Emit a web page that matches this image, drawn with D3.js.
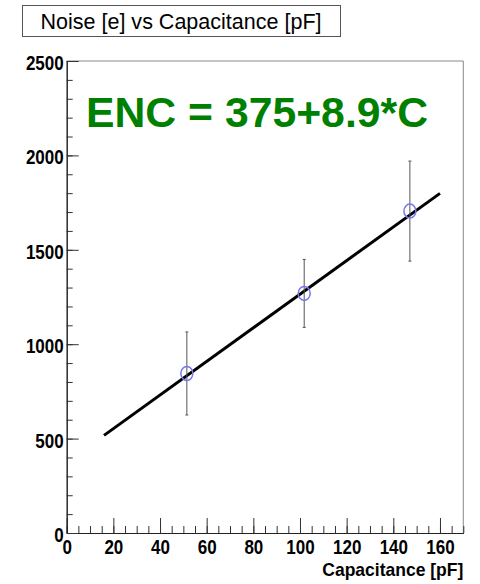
<!DOCTYPE html>
<html>
<head>
<meta charset="utf-8">
<script src="https://cdn.jsdelivr.net/npm/d3@7"></script>
<style>
  body { margin: 0; background: white; }
  svg { display: block; }
</style>
</head>
<body>
<svg id="chart" width="480" height="584"></svg>
<script>
let capacitance = [51.5, 101.8, 147.1];
let noise = [845, 1269, 1705];
let noiseErr = [220, 180, 265];

// straight-line fit, endpoints as drawn
let fitC = [16, 160];
let fitNoise = [517, 1799];

let xMajor = [0, 20, 40, 60, 80, 100, 120, 140, 160];
let yMajor = [0, 500, 1000, 1500, 2000, 2500];

let titleText = "Noise [e] vs Capacitance [pF]";
let xTitle = "Capacitance [pF]";
let fitLabel = "ENC = 375+8.9*C";

let svg = d3.select("#chart");
let labelFont = "'Liberation Sans', Arial, sans-serif";

// no narrow font installed: squeeze each text horizontally
let squeeze = (sel, f) => sel.each(function () {
    let w = this.getComputedTextLength();
    d3.select(this).attr("textLength", w * f).attr("lengthAdjust", "spacingAndGlyphs");
});

let frameL = 66.7, frameR = 463.3, frameT = 61, frameB = 533;
let x = d3.scaleLinear().domain([0, 170]).range([frameL, frameR]);
let y = d3.scaleLinear().domain([0, 2500]).range([frameB, frameT]);

// frame (top + right are lighter)
svg.append("path")
    .attr("d", `M${frameL},${frameT} H${frameR} V${frameB}`)
    .attr("fill", "none")
    .attr("stroke", "#8a8a8a")
    .attr("stroke-width", 1);

// minor ticks first, then major ticks with labels
let xMinor = svg.append("g")
    .attr("transform", `translate(0,${frameB})`)
    .call(d3.axisBottom(x).tickValues(d3.range(0, 171, 5)).tickSizeInner(-7).tickSizeOuter(0).tickFormat(""));
let xAxis = svg.append("g")
    .attr("transform", `translate(0,${frameB})`)
    .call(d3.axisBottom(x).tickValues(xMajor).tickSizeInner(-15).tickSizeOuter(0).tickPadding(7).tickFormat(d3.format("d")));

let yMinor = svg.append("g")
    .attr("transform", `translate(${frameL},0)`)
    .call(d3.axisLeft(y).tickValues(d3.range(0, 2501, 100)).tickSizeInner(-6).tickSizeOuter(0).tickFormat(""));
let yAxis = svg.append("g")
    .attr("transform", `translate(${frameL},0)`)
    .call(d3.axisLeft(y).tickValues(yMajor).tickSizeInner(-12).tickSizeOuter(0).tickPadding(3).tickFormat(d3.format("d")));

for (let g of [xMinor, xAxis, yMinor, yAxis]) {
    g.selectAll("path.domain").attr("stroke", "#222");
    g.selectAll(".tick line").attr("stroke", "#333");
}

xAxis.selectAll("text")
    .style("font-family", labelFont)
    .style("font-weight", "bold")
    .style("font-size", "20px")
    .attr("fill", "black")
    .attr("dy", "0.72em")
    .call(squeeze, 0.85);

yAxis.selectAll("text")
    .style("font-family", labelFont)
    .style("font-weight", "bold")
    .style("font-size", "20px")
    .attr("fill", "black")
    .attr("dy", "0.42em")
    .call(squeeze, 0.85);

// x axis title, right aligned with the frame
svg.append("text")
    .attr("x", frameR)
    .attr("y", 576)
    .attr("text-anchor", "end")
    .style("font-family", labelFont)
    .style("font-weight", "bold")
    .style("font-size", "19px")
    .attr("textLength", 141)
    .attr("lengthAdjust", "spacingAndGlyphs")
    .text(xTitle);

// title box
svg.append("rect")
    .attr("x", 22.5)
    .attr("y", 5.5)
    .attr("width", 318)
    .attr("height", 31)
    .attr("fill", "white")
    .attr("stroke", "#555")
    .attr("stroke-width", 1);

svg.append("text")
    .attr("x", 181)
    .attr("y", 29)
    .attr("text-anchor", "middle")
    .style("font-family", labelFont)
    .style("font-size", "22px")
    .attr("textLength", 281)
    .attr("lengthAdjust", "spacingAndGlyphs")
    .text(titleText);

// fit line
let line = d3.line().x(d => x(d[0])).y(d => y(d[1]));
svg.append("path")
    .attr("d", line(d3.zip(fitC, fitNoise)))
    .attr("fill", "none")
    .attr("stroke", "black")
    .attr("stroke-width", 3);

// error bars
let points = d3.zip(capacitance, noise, noiseErr);
for (let [c, n, e] of points) {
    svg.append("line")
        .attr("x1", x(c)).attr("x2", x(c))
        .attr("y1", y(n - e)).attr("y2", y(n + e))
        .attr("stroke", "#555")
        .attr("stroke-width", 1);
    for (let end of [n - e, n + e]) {
        svg.append("line")
            .attr("x1", x(c) - 1.5).attr("x2", x(c) + 1.5)
            .attr("y1", y(end)).attr("y2", y(end))
            .attr("stroke", "#555")
            .attr("stroke-width", 1);
    }
}

// open markers
svg.selectAll("ellipse.marker")
    .data(points)
    .join("ellipse")
    .attr("class", "marker")
    .attr("cx", d => x(d[0]))
    .attr("cy", d => y(d[1]))
    .attr("rx", 6)
    .attr("ry", 7)
    .attr("fill", "none")
    .attr("stroke", "#7777ee")
    .attr("stroke-width", 1.5);

// fit annotation
svg.append("text")
    .attr("x", 86)
    .attr("y", 126.5)
    .style("font-family", labelFont)
    .style("font-weight", "bold")
    .style("font-size", "43px")
    .attr("fill", "#008000")
    .attr("textLength", 342)
    .attr("lengthAdjust", "spacingAndGlyphs")
    .text(fitLabel);
</script>
</body>
</html>
